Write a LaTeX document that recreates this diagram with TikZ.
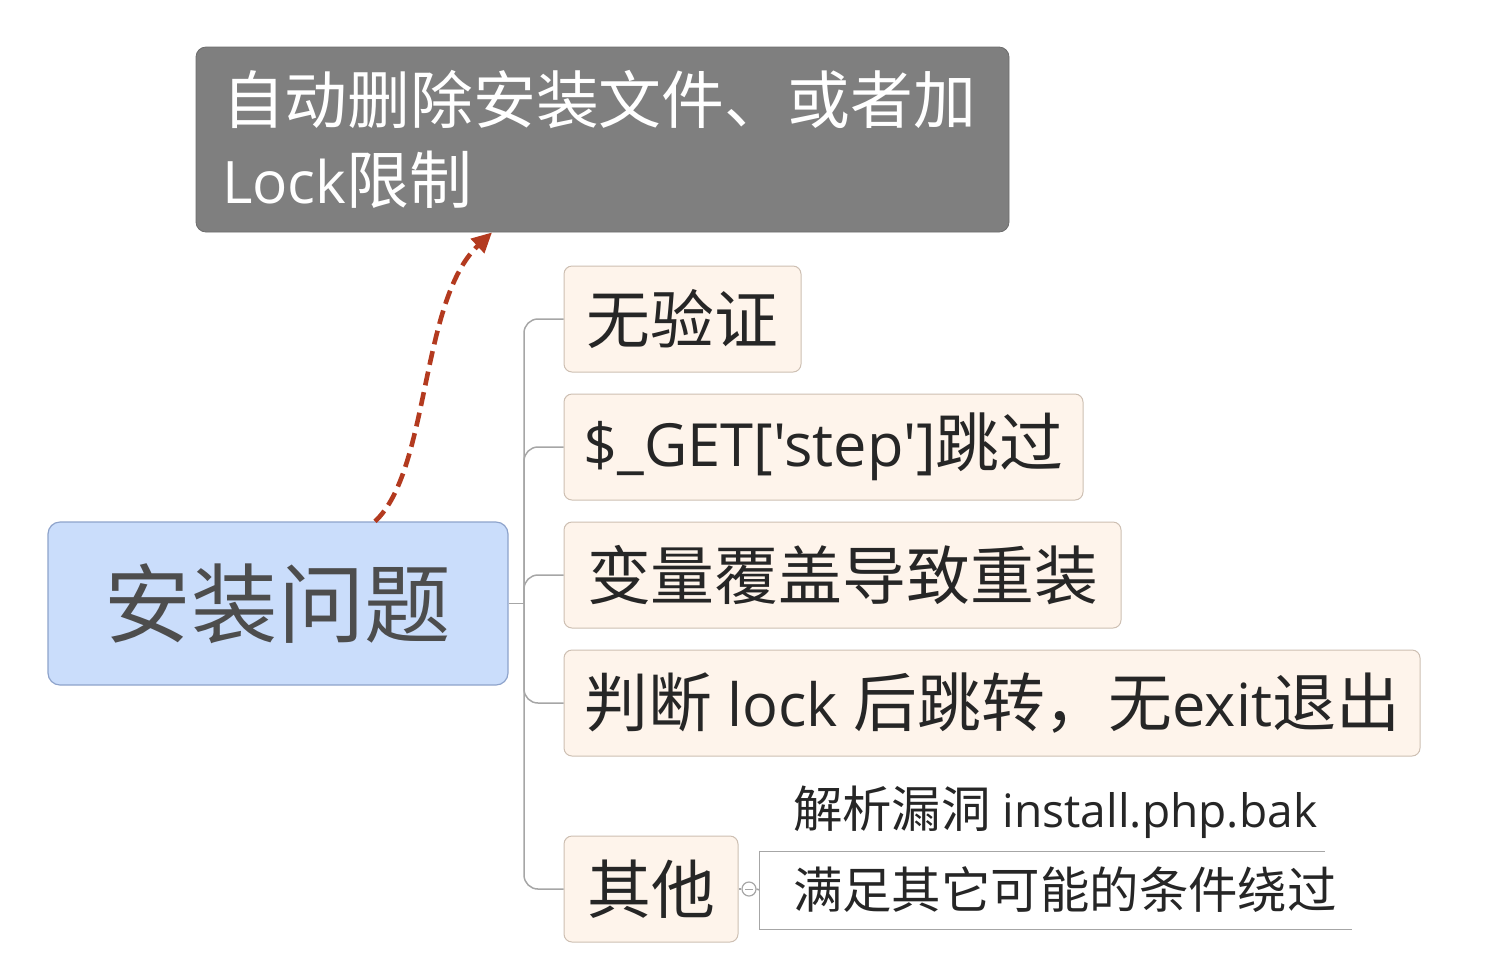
\documentclass[tikz,border=0pt]{standalone}
\usepackage{fontspec}
\setmainfont{Open Sans}[Ligatures=TeXOff,Scale=0.96]
\newfontfamily\cjk{Noto Sans CJK SC}[Scale=1.03]
\usetikzlibrary{arrows.meta}
\definecolor{graybox}{HTML}{7F7F7F}
\definecolor{bluefill}{HTML}{CADDFB}
\definecolor{blueline}{HTML}{8EA3CB}
\definecolor{bluetext}{HTML}{4D4D4D}
\definecolor{peach}{HTML}{FEF4EB}
\definecolor{peachline}{HTML}{CDBFB2}
\definecolor{conn}{HTML}{A6A6A6}
\definecolor{arrowred}{HTML}{B33A1F}
\definecolor{txt}{HTML}{262626}
\begin{document}
\begin{tikzpicture}[x=0.5pt,y=-0.5pt,
  topbox/.style={rectangle, rounded corners=5pt, fill=graybox, draw=graybox!85!black, line width=0.4pt,
    text=white, minimum width=406.5pt, minimum height=92.5pt, inner xsep=13pt, inner ysep=0pt,
    text width=380.5pt, align=left, font=\fontsize{30.5}{40}\selectfont},
  rootbox/.style={rectangle, rounded corners=6pt, fill=bluefill, draw=blueline, line width=0.6pt,
    text=bluetext, minimum width=230pt, minimum height=81.5pt, inner sep=0pt,
    font=\fontsize{42}{48}\selectfont\cjk},
  childbox/.style={rectangle, rounded corners=4pt, fill=peach, draw=peachline, line width=0.5pt,
    text=txt, minimum height=53pt, inner sep=0pt, font=\fontsize{31}{36}\selectfont},
  subitem/.style={rectangle, inner xsep=16.5pt, inner ysep=0pt, minimum height=39pt, text=txt,
    font=\fontsize{24}{28}\selectfont},
  connline/.style={draw=conn, line width=0.75pt},
  dasharrow/.style={draw=arrowred, line width=2.3pt, dash pattern=on 7pt off 3.5pt,
    -{Triangle[length=10pt,width=9.5pt]}},
]
\useasboundingbox (0,0) rectangle (1502,966);

% top gray node
\node[topbox] (top) at (602.5,139.5) {{\cjk 自动删除安装文件、或者加}\\Lock{\cjk 限制}};

% root
\node[rootbox] (root) at (278,603.5) {安装问题};

% children
\node[childbox, minimum width=118.5pt] (c1) at (682.5,319) {\cjk 无验证};
\node[childbox, minimum width=259.5pt] (c2) at (823.5,447) {\$\_GET['step']{\cjk 跳过}};
\node[childbox, minimum width=278.5pt] (c3) at (842.5,575) {\cjk 变量覆盖导致重装};
\node[childbox, minimum width=428pt] (c4) at (992,703) {{\cjk 判断} lock {\cjk 后跳转，无}exit{\cjk 退出}};
\node[childbox, minimum width=87pt] (c5) at (651,889) {\cjk 其他};

% connectors
\coordinate (hub) at (524,603.5);
\draw[connline] (root.east) -- (hub);
\foreach \c in {c1,c2,c3,c4,c5}{
  \draw[connline, rounded corners=7pt] (hub) |- (\c.west);
}

% collapse circle
\node[circle, draw=conn, fill=white, line width=0.6pt, minimum size=7pt, inner sep=0pt] (col) at (749,889) {};
\draw[conn, line width=0.5pt] ([xshift=-2pt]col.center) -- ([xshift=2pt]col.center);
\draw[connline] (c5.east) -- (col.west);

% sub items
\node[subitem] (s1) at (1042.5,812) {\makebox[249.5pt][l]{{\cjk 解析漏洞} install.php.bak}};
\node[subitem] (s2) at (1056,890) {\makebox[263pt][l]{\cjk 满足其它可能的条件绕过}};
\draw[connline] (s1.south west) -- (s1.south east);
\draw[connline] (s2.north west) -- (s2.south west) -- (s2.south east);
\draw[connline] (col.east) -- (s2.west);

% dashed arrow
\draw[dasharrow] ([xshift=48.5pt]root.north) .. controls (430,470) and (420,300) .. ([xshift=-55.25pt]top.south);
\end{tikzpicture}
\end{document}
